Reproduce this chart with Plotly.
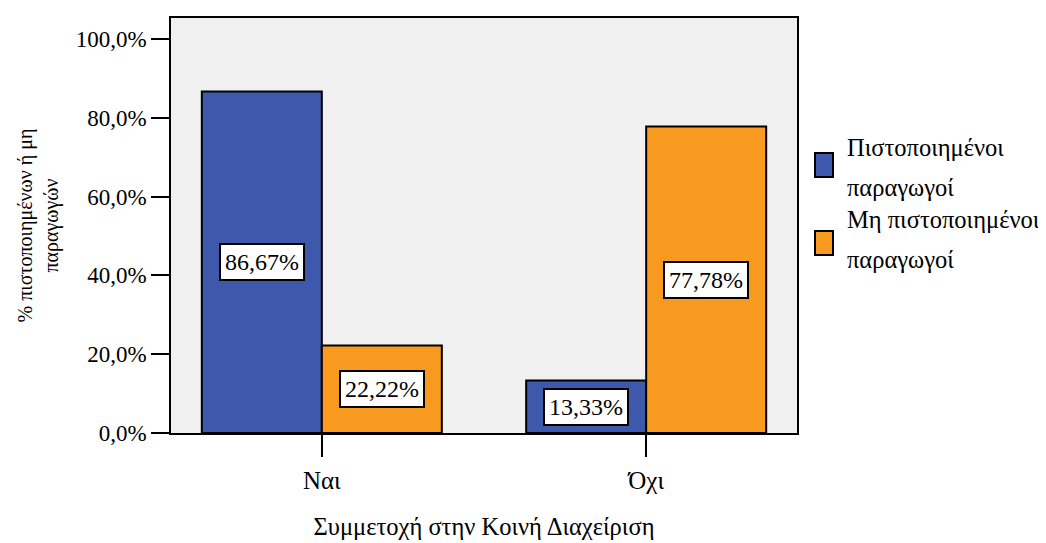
import plotly.graph_objects as go

categories = ["Ναι", "Όχι"]
series_names = ["Πιστοποιημένοι παραγωγοί", "Μη πιστοποιημένοι παραγωγοί"]
certified = [86.67, 13.33]
not_certified = [22.22, 77.78]
colors = ["#3E58AC", "#F89A1F"]
y_ticks = [0, 20, 40, 60, 80, 100]
y_tick_labels = ["0,0%", "20,0%", "40,0%", "60,0%", "80,0%", "100,0%"]

FONT = "Times New Roman"
bargap = 0.26
bar_w = (1 - bargap) / 2

# page body has an 8px margin in the browser
W, H = 1046, 543
ML, MR, MT, MB = 163, 257, 10, 118
plot_w = W - ML - MR
plot_h = H - MT - MB
PB = 433  # screen y of plot bottom

fig = go.Figure()
for name, vals, col in zip(series_names, [certified, not_certified], colors):
    fig.add_trace(go.Bar(
        x=categories, y=vals, name=name, showlegend=False,
        marker=dict(color=col, line=dict(color="black", width=2)),
    ))

annotations = []
for s, vals in enumerate([certified, not_certified]):
    offset = (s - 0.5) * bar_w
    for i, v in enumerate(vals):
        annotations.append(dict(
            x=i + offset, y=v / 2, xref="x", yref="y",
            text=f"{v:.2f}%".replace(".", ","),
            showarrow=False, bgcolor="white", bordercolor="black",
            borderwidth=2, borderpad=4,
            font=dict(family=FONT, size=24, color="black"),
        ))

# manual legend
shapes = []
leg_sym_x0 = 1 + (815 - 797) / plot_w
leg_sym_x1 = 1 + (833 - 797) / plot_w
leg_text_x = 1 + (845 - 797) / plot_w
sym_centers_px = [165, 243]
text_centers_px = [167.5, 239.5]
for name, col, cy, ty in zip(series_names, colors, sym_centers_px, text_centers_px):
    yc = (PB - cy) / plot_h
    shapes.append(dict(type="rect", xref="paper", yref="paper",
                       x0=leg_sym_x0, x1=leg_sym_x1,
                       y0=yc - 12 / plot_h, y1=yc + 12 / plot_h,
                       fillcolor=col, line=dict(color="black", width=2)))
    tc = (PB - ty) / plot_h
    for k, line in enumerate(name.rsplit(" ", 1)):
        annotations.append(dict(
            x=leg_text_x, y=tc + (20 - 40 * k) / plot_h,
            xref="paper", yref="paper", xanchor="left", yanchor="middle",
            text=line, showarrow=False,
            font=dict(family=FONT, size=24.5, color="black"),
        ))

fig.update_layout(
    width=W, height=H,
    margin=dict(l=ML, r=MR, t=MT, b=MB, autoexpand=False),
    paper_bgcolor="white", plot_bgcolor="#F0F0F0",
    barmode="group", bargap=bargap, bargroupgap=0,
    font=dict(family=FONT, size=23, color="black"),
    showlegend=False,
    annotations=annotations, shapes=shapes,
)
fig.update_xaxes(
    type="category", range=[-0.465, 1.465], automargin=False,
    showline=True, linecolor="black", linewidth=1.5, mirror=True,
    ticks="outside", ticklen=22, tickwidth=2, tickcolor="black",
    ticklabelstandoff=2,
    showgrid=False, tickfont=dict(family=FONT, size=25),
    title=dict(text="Συμμετοχή στην Κοινή Διαχείριση",
               font=dict(family=FONT, size=24.5), standoff=25),
)
fig.update_yaxes(
    range=[0, 105.3], tickvals=y_ticks, ticktext=y_tick_labels, automargin=False,
    showline=True, linecolor="black", linewidth=1.5, mirror=True,
    ticks="outside", ticklen=18, tickwidth=2, tickcolor="black",
    showgrid=False, zeroline=False, tickfont=dict(family=FONT, size=23),
    title=dict(text="% πιστοποιημένων ή μη<br>παραγωγών",
               font=dict(family=FONT, size=20), standoff=12),
)

fig.write_html("out.html")
